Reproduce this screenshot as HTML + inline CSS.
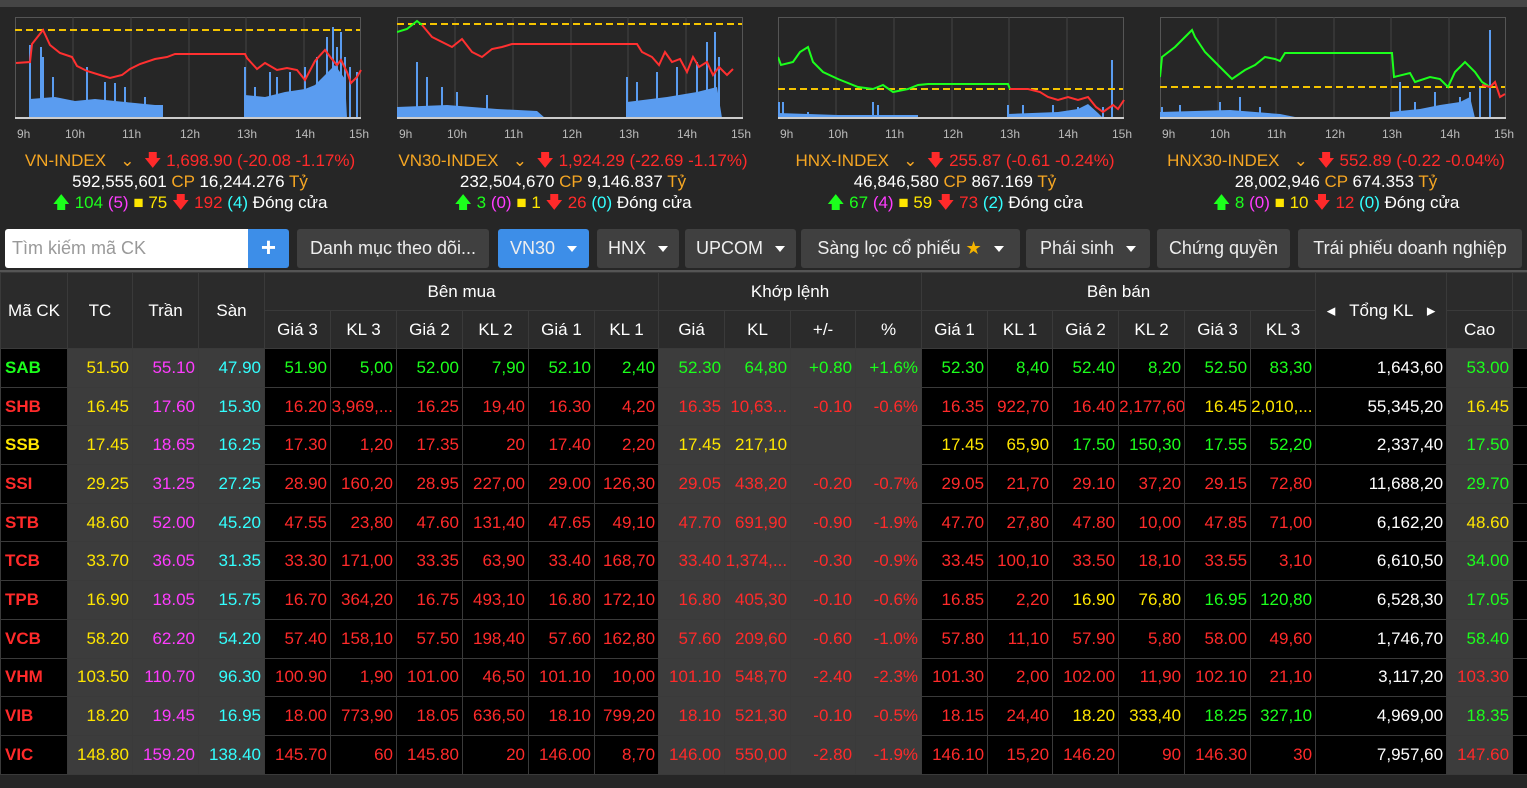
<!DOCTYPE html>
<html><head><meta charset="utf-8">
<style>
*{margin:0;padding:0;box-sizing:border-box}
body{width:1527px;height:788px;overflow:hidden;background:#262626;font-family:"Liberation Sans",sans-serif;color:#fff;position:relative}
.top{position:absolute;left:0;top:0;width:1527px;height:7px;background:#454545}
.chart{position:absolute;top:17px;width:348px;height:125px}
.hrs{position:absolute;top:127px;font-size:12px;color:#bbb}
.info{position:absolute;top:150px;width:380px;text-align:center;font-size:17px;line-height:21px}
.o{color:#f5a623}.r{color:#ff2a2a}.g{color:#1cff1c}.y{color:#ffe600}.m{color:#ff3cff}.c{color:#3ff}.w{color:#fff}
.tab{position:absolute;top:229px;height:39px;background:#404040;border-radius:3px;font-size:18px;line-height:39px;text-align:center;color:#eee}
.dd:after{content:"";display:inline-block;margin-left:12px;vertical-align:middle;border-left:5px solid transparent;border-right:5px solid transparent;border-top:6px solid #fff}
table{position:absolute;left:0;top:272px;border-collapse:collapse;table-layout:fixed;width:1527px;font-size:17px}
td,th{border:1px solid #3a3a3a;overflow:hidden;white-space:nowrap}
th{background:#2b2b2b;font-weight:normal;color:#fff;height:38px;text-align:center}
td{height:38.7px;background:#000;text-align:right;padding-right:3px}
td.s{text-align:left;padding-left:4px;font-weight:bold}
td.k{background:#3c3c3c}
td.t{color:#fff}
</style></head><body>
<div class="top"></div>

<!-- chart 1 -->
<svg class="chart" style="left:15px" viewBox="0 0 348 125">
<rect x="0.5" y="0.5" width="345" height="101" fill="none" stroke="#555"/>
<g stroke="#444"><line x1="58" y1="0" x2="58" y2="101"/><line x1="116" y1="0" x2="116" y2="101"/><line x1="174" y1="0" x2="174" y2="101"/><line x1="231" y1="0" x2="231" y2="101"/><line x1="289" y1="0" x2="289" y2="101"/></g>
<path d="M15 101V28M26 101V30M28 101V40M38 101V60M72 101V50M90 101V65M100 101V66M110 101V70M130 101V80M230 101V50M240 101V70M255 101V55M262 101V60M275 101V55M290 101V50M302 101V40M312 101V20M318 101V10M322 101V30M326 101V15M330 101V40M335 101V50M342 101V55" stroke="#5a9cf0" stroke-width="2"/>
<polygon points="15,101 15,82 40,80 60,84 80,82 100,84 120,86 140,88 148,88 148,101" fill="#5a9cf0"/>
<polygon points="230,101 230,78 250,80 270,75 290,72 300,68 310,58 320,48 330,62 332,101" fill="#5a9cf0"/>
<line x1="0" y1="13" x2="345" y2="13" stroke="#f5c400" stroke-width="2" stroke-dasharray="7,4"/>
<polyline fill="none" stroke="#ff3030" stroke-width="2" points="1,46 15,45 17,27 28,13 35,28 45,36 57,40 62,49 72,54 85,58 95,61 107,58 115,52 125,47 140,42 152,40 160,37 230,37 232,41 242,52 250,46 262,53 272,51 282,53 290,63 300,44 310,33 316,41 322,48 326,43 332,55 336,66 342,60 346,53"/>
<line x1="0" y1="101" x2="346" y2="101" stroke="#ccc" stroke-width="2"/>
</svg>
<!-- chart 2 -->
<svg class="chart" style="left:397px" viewBox="0 0 348 125">
<rect x="0.5" y="0.5" width="345" height="101" fill="none" stroke="#555"/>
<g stroke="#444"><line x1="58" y1="0" x2="58" y2="101"/><line x1="116" y1="0" x2="116" y2="101"/><line x1="174" y1="0" x2="174" y2="101"/><line x1="231" y1="0" x2="231" y2="101"/><line x1="289" y1="0" x2="289" y2="101"/></g>
<path d="M20 101V45M30 101V60M45 101V70M60 101V75M90 101V78M230 101V60M240 101V65M260 101V55M280 101V50M300 101V45M310 101V25M318 101V15M322 101V40" stroke="#5a9cf0" stroke-width="2"/>
<polygon points="0,101 0,90 50,88 100,92 140,94 148,101" fill="#5a9cf0"/>
<polygon points="230,101 230,85 270,80 300,75 320,70 325,101" fill="#5a9cf0"/>
<line x1="0" y1="7" x2="345" y2="7" stroke="#f5c400" stroke-width="2" stroke-dasharray="7,4"/>
<polyline fill="none" stroke="#1cff1c" stroke-width="2" points="0,15 10,12 20,4 25,8"/>
<polyline fill="none" stroke="#ff3030" stroke-width="2" points="25,8 35,20 45,25 55,30 65,22 75,35 85,40 95,32 105,30 115,27 240,27 245,35 255,40 262,48 268,35 275,45 283,42 290,55 296,40 302,50 310,45 316,58 322,50 330,58 336,52"/>
<line x1="0" y1="101" x2="346" y2="101" stroke="#ccc" stroke-width="2"/>
</svg>
<!-- chart 3 -->
<svg class="chart" style="left:778px" viewBox="0 0 348 125">
<rect x="0.5" y="0.5" width="345" height="101" fill="none" stroke="#555"/>
<g stroke="#444"><line x1="58" y1="0" x2="58" y2="101"/><line x1="116" y1="0" x2="116" y2="101"/><line x1="174" y1="0" x2="174" y2="101"/><line x1="231" y1="0" x2="231" y2="101"/><line x1="289" y1="0" x2="289" y2="101"/></g>
<path d="M1 101V85M5 101V85M30 101V95M95 101V85M100 101V88M230 101V88M245 101V88M275 101V88M300 101V90M325 101V90M334 101V43" stroke="#5a9cf0" stroke-width="2"/>
<polygon points="0,101 0,96 60,98 140,98 140,101" fill="#5a9cf0"/>
<polygon points="230,101 230,97 280,95 300,92 310,87 320,96 325,101" fill="#5a9cf0"/>
<line x1="0" y1="72" x2="345" y2="72" stroke="#f5c400" stroke-width="2" stroke-dasharray="7,4"/>
<polyline fill="none" stroke="#1cff1c" stroke-width="2" points="0,40 3,48 15,45 22,35 30,30 35,45 45,55 60,62 80,70 95,72 105,68 115,75 130,72 140,68 150,67 230,67 232,72"/>
<polyline fill="none" stroke="#ff3030" stroke-width="2" points="232,72 250,72 262,75 270,80 280,83 290,80 300,83 310,80 318,90 325,95 335,88 340,92 346,83"/>
<line x1="0" y1="101" x2="346" y2="101" stroke="#ccc" stroke-width="2"/>
</svg>
<!-- chart 4 -->
<svg class="chart" style="left:1160px" viewBox="0 0 348 125">
<rect x="0.5" y="0.5" width="345" height="101" fill="none" stroke="#555"/>
<g stroke="#444"><line x1="58" y1="0" x2="58" y2="101"/><line x1="116" y1="0" x2="116" y2="101"/><line x1="174" y1="0" x2="174" y2="101"/><line x1="231" y1="0" x2="231" y2="101"/><line x1="289" y1="0" x2="289" y2="101"/></g>
<path d="M2 101V90M20 101V88M60 101V85M80 101V80M100 101V90M240 101V65M255 101V85M275 101V75M285 101V90M300 101V80M310 101V75M320 101V70M330 101V13" stroke="#5a9cf0" stroke-width="2"/>
<polygon points="0,101 0,95 70,93 120,97 140,101" fill="#5a9cf0"/>
<polygon points="230,101 230,95 260,92 280,88 300,85 310,80 315,101" fill="#5a9cf0"/>
<line x1="0" y1="70" x2="345" y2="70" stroke="#f5c400" stroke-width="2" stroke-dasharray="7,4"/>
<polyline fill="none" stroke="#1cff1c" stroke-width="2" points="0,60 2,40 15,30 25,20 32,13 35,20 45,35 55,45 65,55 72,62 85,53 95,48 105,40 115,42 120,44 125,36 232,36 234,60 250,56 255,65 270,60 280,62 288,70 295,55 305,45 315,55 322,65 330,70"/>
<polyline fill="none" stroke="#ff3030" stroke-width="2" points="322,68 330,70 335,65 340,80 345,77"/>
<line x1="0" y1="101" x2="346" y2="101" stroke="#ccc" stroke-width="2"/>
</svg>

<div class="hrs" style="left:15px;width:360px"><span style="position:absolute;left:2px">9h</span><span style="position:absolute;left:50px">10h</span><span style="position:absolute;left:107px">11h</span><span style="position:absolute;left:165px">12h</span><span style="position:absolute;left:222px">13h</span><span style="position:absolute;left:280px">14h</span><span style="position:absolute;left:334px">15h</span></div>
<div class="hrs" style="left:397px;width:360px"><span style="position:absolute;left:2px">9h</span><span style="position:absolute;left:50px">10h</span><span style="position:absolute;left:107px">11h</span><span style="position:absolute;left:165px">12h</span><span style="position:absolute;left:222px">13h</span><span style="position:absolute;left:280px">14h</span><span style="position:absolute;left:334px">15h</span></div>
<div class="hrs" style="left:778px;width:360px"><span style="position:absolute;left:2px">9h</span><span style="position:absolute;left:50px">10h</span><span style="position:absolute;left:107px">11h</span><span style="position:absolute;left:165px">12h</span><span style="position:absolute;left:222px">13h</span><span style="position:absolute;left:280px">14h</span><span style="position:absolute;left:334px">15h</span></div>
<div class="hrs" style="left:1160px;width:360px"><span style="position:absolute;left:2px">9h</span><span style="position:absolute;left:50px">10h</span><span style="position:absolute;left:107px">11h</span><span style="position:absolute;left:165px">12h</span><span style="position:absolute;left:222px">13h</span><span style="position:absolute;left:280px">14h</span><span style="position:absolute;left:334px">15h</span></div>

<div class="info" style="left:0px"><span class="o">VN-INDEX</span>&nbsp;&nbsp; <span class="o">⌄</span>&nbsp; <span class="r">🡇 1,698.90 (-20.08 -1.17%)</span><br>592,555,601 <span class="o">CP</span> 16,244.276 <span class="o">Tỷ</span><br><span class="g">🡅 104</span> <span class="m">(5)</span> <span class="y">■ 75</span> <span class="r">🡇 192</span> <span class="c">(4)</span> Đóng cửa</div>
<div class="info" style="left:383px"><span class="o">VN30-INDEX</span>&nbsp;&nbsp; <span class="o">⌄</span>&nbsp; <span class="r">🡇 1,924.29 (-22.69 -1.17%)</span><br>232,504,670 <span class="o">CP</span> 9,146.837 <span class="o">Tỷ</span><br><span class="g">🡅 3</span> <span class="m">(0)</span> <span class="y">■ 1</span> <span class="r">🡇 26</span> <span class="c">(0)</span> Đóng cửa</div>
<div class="info" style="left:765px"><span class="o">HNX-INDEX</span>&nbsp;&nbsp; <span class="o">⌄</span>&nbsp; <span class="r">🡇 255.87 (-0.61 -0.24%)</span><br>46,846,580 <span class="o">CP</span> 867.169 <span class="o">Tỷ</span><br><span class="g">🡅 67</span> <span class="m">(4)</span> <span class="y">■ 59</span> <span class="r">🡇 73</span> <span class="c">(2)</span> Đóng cửa</div>
<div class="info" style="left:1146px"><span class="o">HNX30-INDEX</span>&nbsp;&nbsp; <span class="o">⌄</span>&nbsp; <span class="r">🡇 552.89 (-0.22 -0.04%)</span><br>28,002,946 <span class="o">CP</span> 674.353 <span class="o">Tỷ</span><br><span class="g">🡅 8</span> <span class="m">(0)</span> <span class="y">■ 10</span> <span class="r">🡇 12</span> <span class="c">(0)</span> Đóng cửa</div>

<div style="position:absolute;left:5px;top:229px;width:243px;height:39px;background:#fff;border-radius:3px 0 0 3px;color:#999;font-size:18px;line-height:39px;padding-left:7px">Tìm kiếm mã CK</div>
<div style="position:absolute;left:248px;top:229px;width:41px;height:39px;background:#3d8ee8;border-radius:0 3px 3px 0;color:#fff;font-size:26px;line-height:37px;text-align:center;font-weight:bold">+</div>
<div class="tab" style="left:297px;width:192px">Danh mục theo dõi...</div>
<div class="tab dd" style="left:498px;width:91px;background:#3d8ee8">VN30</div>
<div class="tab dd" style="left:597px;width:82px">HNX</div>
<div class="tab dd" style="left:685px;width:111px">UPCOM</div>
<div class="tab dd" style="left:801px;width:219px">Sàng lọc cổ phiếu <span style="color:#f5b400">★</span></div>
<div class="tab dd" style="left:1026px;width:124px">Phái sinh</div>
<div class="tab" style="left:1157px;width:133px">Chứng quyền</div>
<div class="tab" style="left:1298px;width:224px">Trái phiếu doanh nghiệp</div>
<div style="position:absolute;left:0;top:270px;width:1527px;height:2px;background:#555"></div>

<table>
<colgroup><col style="width:67px"><col style="width:65px"><col style="width:66px"><col style="width:66px"><col style="width:66px"><col style="width:66px"><col style="width:66px"><col style="width:66px"><col style="width:66px"><col style="width:64px"><col style="width:66px"><col style="width:66px"><col style="width:65px"><col style="width:66px"><col style="width:66px"><col style="width:65px"><col style="width:66px"><col style="width:66px"><col style="width:66px"><col style="width:65px"><col style="width:131px"><col style="width:66px"><col style="width:15px"></colgroup>
<tr><th rowspan="2">Mã CK</th><th rowspan="2">TC</th><th rowspan="2">Trần</th><th rowspan="2">Sàn</th><th colspan="6">Bên mua</th><th colspan="4">Khớp lệnh</th><th colspan="6">Bên bán</th><th rowspan="2">◂ &nbsp; Tổng KL &nbsp; ▸</th><th></th><th></th></tr>
<tr><th>Giá 3</th><th>KL 3</th><th>Giá 2</th><th>KL 2</th><th>Giá 1</th><th>KL 1</th><th>Giá</th><th>KL</th><th>+/-</th><th>%</th><th>Giá 1</th><th>KL 1</th><th>Giá 2</th><th>KL 2</th><th>Giá 3</th><th>KL 3</th><th>Cao</th><th></th></tr>
<tr><td class="s g">SAB</td><td class="k y">51.50</td><td class="k m">55.10</td><td class="k c">47.90</td><td class="g">51.90</td><td class="g">5,00</td><td class="g">52.00</td><td class="g">7,90</td><td class="g">52.10</td><td class="g">2,40</td><td class="k g">52.30</td><td class="k g">64,80</td><td class="k g">+0.80</td><td class="k g">+1.6%</td><td class="g">52.30</td><td class="g">8,40</td><td class="g">52.40</td><td class="g">8,20</td><td class="g">52.50</td><td class="g">83,30</td><td class="t">1,643,60</td><td class="k g">53.00</td><td></td></tr>
<tr><td class="s r">SHB</td><td class="k y">16.45</td><td class="k m">17.60</td><td class="k c">15.30</td><td class="r">16.20</td><td class="r">3,969,...</td><td class="r">16.25</td><td class="r">19,40</td><td class="r">16.30</td><td class="r">4,20</td><td class="k r">16.35</td><td class="k r">10,63...</td><td class="k r">-0.10</td><td class="k r">-0.6%</td><td class="r">16.35</td><td class="r">922,70</td><td class="r">16.40</td><td class="r">2,177,60</td><td class="y">16.45</td><td class="y">2,010,...</td><td class="t">55,345,20</td><td class="k y">16.45</td><td></td></tr>
<tr><td class="s y">SSB</td><td class="k y">17.45</td><td class="k m">18.65</td><td class="k c">16.25</td><td class="r">17.30</td><td class="r">1,20</td><td class="r">17.35</td><td class="r">20</td><td class="r">17.40</td><td class="r">2,20</td><td class="k y">17.45</td><td class="k y">217,10</td><td class="k"></td><td class="k"></td><td class="y">17.45</td><td class="y">65,90</td><td class="g">17.50</td><td class="g">150,30</td><td class="g">17.55</td><td class="g">52,20</td><td class="t">2,337,40</td><td class="k g">17.50</td><td></td></tr>
<tr><td class="s r">SSI</td><td class="k y">29.25</td><td class="k m">31.25</td><td class="k c">27.25</td><td class="r">28.90</td><td class="r">160,20</td><td class="r">28.95</td><td class="r">227,00</td><td class="r">29.00</td><td class="r">126,30</td><td class="k r">29.05</td><td class="k r">438,20</td><td class="k r">-0.20</td><td class="k r">-0.7%</td><td class="r">29.05</td><td class="r">21,70</td><td class="r">29.10</td><td class="r">37,20</td><td class="r">29.15</td><td class="r">72,80</td><td class="t">11,688,20</td><td class="k g">29.70</td><td></td></tr>
<tr><td class="s r">STB</td><td class="k y">48.60</td><td class="k m">52.00</td><td class="k c">45.20</td><td class="r">47.55</td><td class="r">23,80</td><td class="r">47.60</td><td class="r">131,40</td><td class="r">47.65</td><td class="r">49,10</td><td class="k r">47.70</td><td class="k r">691,90</td><td class="k r">-0.90</td><td class="k r">-1.9%</td><td class="r">47.70</td><td class="r">27,80</td><td class="r">47.80</td><td class="r">10,00</td><td class="r">47.85</td><td class="r">71,00</td><td class="t">6,162,20</td><td class="k y">48.60</td><td></td></tr>
<tr><td class="s r">TCB</td><td class="k y">33.70</td><td class="k m">36.05</td><td class="k c">31.35</td><td class="r">33.30</td><td class="r">171,00</td><td class="r">33.35</td><td class="r">63,90</td><td class="r">33.40</td><td class="r">168,70</td><td class="k r">33.40</td><td class="k r">1,374,...</td><td class="k r">-0.30</td><td class="k r">-0.9%</td><td class="r">33.45</td><td class="r">100,10</td><td class="r">33.50</td><td class="r">18,10</td><td class="r">33.55</td><td class="r">3,10</td><td class="t">6,610,50</td><td class="k g">34.00</td><td></td></tr>
<tr><td class="s r">TPB</td><td class="k y">16.90</td><td class="k m">18.05</td><td class="k c">15.75</td><td class="r">16.70</td><td class="r">364,20</td><td class="r">16.75</td><td class="r">493,10</td><td class="r">16.80</td><td class="r">172,10</td><td class="k r">16.80</td><td class="k r">405,30</td><td class="k r">-0.10</td><td class="k r">-0.6%</td><td class="r">16.85</td><td class="r">2,20</td><td class="y">16.90</td><td class="y">76,80</td><td class="g">16.95</td><td class="g">120,80</td><td class="t">6,528,30</td><td class="k g">17.05</td><td></td></tr>
<tr><td class="s r">VCB</td><td class="k y">58.20</td><td class="k m">62.20</td><td class="k c">54.20</td><td class="r">57.40</td><td class="r">158,10</td><td class="r">57.50</td><td class="r">198,40</td><td class="r">57.60</td><td class="r">162,80</td><td class="k r">57.60</td><td class="k r">209,60</td><td class="k r">-0.60</td><td class="k r">-1.0%</td><td class="r">57.80</td><td class="r">11,10</td><td class="r">57.90</td><td class="r">5,80</td><td class="r">58.00</td><td class="r">49,60</td><td class="t">1,746,70</td><td class="k g">58.40</td><td></td></tr>
<tr><td class="s r">VHM</td><td class="k y">103.50</td><td class="k m">110.70</td><td class="k c">96.30</td><td class="r">100.90</td><td class="r">1,90</td><td class="r">101.00</td><td class="r">46,50</td><td class="r">101.10</td><td class="r">10,00</td><td class="k r">101.10</td><td class="k r">548,70</td><td class="k r">-2.40</td><td class="k r">-2.3%</td><td class="r">101.30</td><td class="r">2,00</td><td class="r">102.00</td><td class="r">11,90</td><td class="r">102.10</td><td class="r">21,10</td><td class="t">3,117,20</td><td class="k r">103.30</td><td></td></tr>
<tr><td class="s r">VIB</td><td class="k y">18.20</td><td class="k m">19.45</td><td class="k c">16.95</td><td class="r">18.00</td><td class="r">773,90</td><td class="r">18.05</td><td class="r">636,50</td><td class="r">18.10</td><td class="r">799,20</td><td class="k r">18.10</td><td class="k r">521,30</td><td class="k r">-0.10</td><td class="k r">-0.5%</td><td class="r">18.15</td><td class="r">24,40</td><td class="y">18.20</td><td class="y">333,40</td><td class="g">18.25</td><td class="g">327,10</td><td class="t">4,969,00</td><td class="k g">18.35</td><td></td></tr>
<tr><td class="s r">VIC</td><td class="k y">148.80</td><td class="k m">159.20</td><td class="k c">138.40</td><td class="r">145.70</td><td class="r">60</td><td class="r">145.80</td><td class="r">20</td><td class="r">146.00</td><td class="r">8,70</td><td class="k r">146.00</td><td class="k r">550,00</td><td class="k r">-2.80</td><td class="k r">-1.9%</td><td class="r">146.10</td><td class="r">15,20</td><td class="r">146.20</td><td class="r">90</td><td class="r">146.30</td><td class="r">30</td><td class="t">7,957,60</td><td class="k r">147.60</td><td></td></tr>
</table>
</body></html>
